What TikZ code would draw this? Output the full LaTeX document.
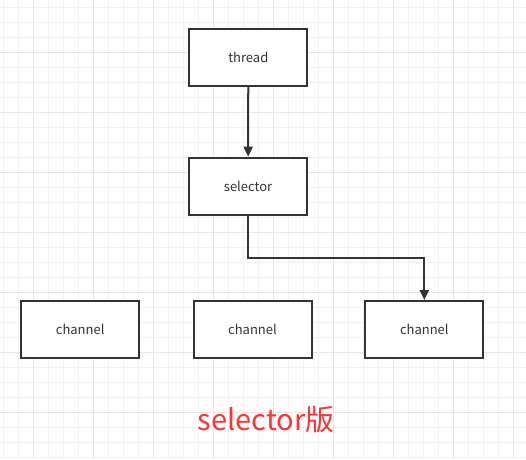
\documentclass[tikz,border=0pt]{standalone}
\usepackage{fontspec}
\setmainfont{Noto Sans CJK SC}
\usepackage{tikz}
\usetikzlibrary{positioning,arrows.meta}
\definecolor{ink}{HTML}{333333}
\definecolor{gridlt}{HTML}{F2F2F2}
\definecolor{griddk}{HTML}{E6E6E6}
\definecolor{redtxt}{HTML}{FF3333}

\begin{document}
\begin{tikzpicture}[x=1pt,y=-1pt,
  blk/.style={draw=ink,line width=2pt,minimum width=118pt,minimum height=57pt,
    inner sep=0pt,font=\fontsize{13}{15}\selectfont,text=ink,fill=white},
  link/.style={draw=ink,line width=2pt,-{Triangle[length=10pt,width=9pt]}}]
\useasboundingbox (0,0) rectangle (526,459);
\fill[white] (0,0) rectangle (526,459);
% background grid
\foreach \x in {3.3,18.3,...,526}{\draw[gridlt,line width=1pt] (\x,0) -- (\x,459);}
\foreach \y in {7.3,22.3,...,459}{\draw[gridlt,line width=1pt] (0,\y) -- (526,\y);}
\foreach \x in {33.3,93.3,...,526}{\draw[griddk,line width=1pt] (\x,0) -- (\x,459);}
\foreach \y in {52.3,112.3,...,459}{\draw[griddk,line width=1pt] (0,\y) -- (526,\y);}
% boxes
\node[blk] (thread) at (248.3,57.4) {thread};
\node[blk] (selector) at (248.1,186.2) {selector};
\node[blk] (chA) at (80.2,329.5) {channel};
\node[blk] (chB) at (252.5,329.5) {channel};
\node[blk] (chC) at (424.3,329.5) {channel};
% connectors
\draw[link] (thread) -- (selector);
\draw[link] (selector.south) |- (336,258.3) -| (chC.north);
\node[font=\fontsize{29}{32}\selectfont,text=redtxt] (title) at (266,420) {selector版};
\end{tikzpicture}
\end{document}
